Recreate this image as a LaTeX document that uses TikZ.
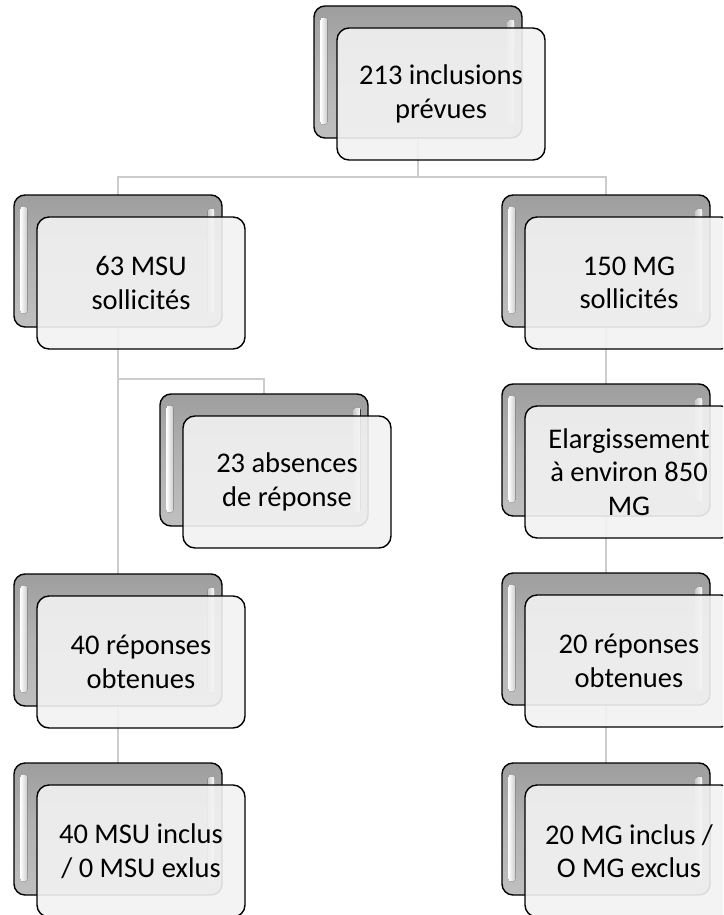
\documentclass[tikz,border=0pt]{standalone}
\usepackage{fontspec}
\newfontfamily\unitfont{Carlito}
\usetikzlibrary{calc}
\pgfdeclarelayer{background}
\pgfsetlayers{background,main}
\tikzset{
  backbox/.style={draw=black, line width=1.4pt, rounded corners=11pt,
    minimum width=208pt, minimum height=132pt, inner sep=0pt,
    top color=gray!76, bottom color=gray!50, middle color=gray!60},
  frontbox/.style={draw=black, line width=1.4pt, rounded corners=12pt,
    minimum width=208pt, minimum height=132pt, inner sep=0pt,
    fill=gray!10, fill opacity=0.9, draw opacity=1, text opacity=1,
    align=center, font={\unitfont\fontsize{28.5}{33.5}\selectfont}},
  glossL/.style={left color=white, right color=gray!40, rounded corners=3pt},
  glossR/.style={left color=gray!40, right color=white, rounded corners=3pt},
  conn/.style={draw=gray!40, line width=2.5pt}
}
\newcommand\unitbox[4]{%
  \node[backbox] (#1b) at (#2,#3) {};
  \fill[glossL] ($(#1b.north west)+(7,12)$) rectangle ($(#1b.south west)+(14,-14)$);
  \fill[glossR] ($(#1b.north east)+(-15,14)$) rectangle ($(#1b.south east)+(-8,-14)$);
  \node[frontbox] (#1f) at ($(#1b.center)+(23,22)$) {#4};
}
\begin{document}
\begin{tikzpicture}[x=1pt,y=-1pt]
\clip (0,0) rectangle (723,915);
\unitbox{top}{418}{72}{213 inclusions\\prévues}
\unitbox{msu}{118}{261}{63 MSU\\sollicités}
\unitbox{abs}{264}{460}{23 absences\\de réponse}
\unitbox{repa}{118}{640}{40 réponses\\obtenues}
\unitbox{inca}{118}{829}{40 MSU inclus\\/ 0 MSU exlus}
\unitbox{mg}{606}{261}{150 MG\\sollicités}
\unitbox{elarg}{606}{450}{Elargissement\\à environ 850\\MG}
\unitbox{repb}{606}{639}{20 réponses\\obtenues}
\unitbox{incb}{606}{829}{20 MG inclus /\\O MG exclus}
\begin{pgfonlayer}{background}
  \fill[white] (0,0) rectangle (723,915);
  \coordinate (j0) at (418,177);
  \coordinate (j1) at (118,379);
  \draw[conn] (topb.center) -- (j0);
  \draw[conn] (j0) -| (msub.center);
  \draw[conn] (j0) -| (mgb.center);
  \draw[conn] (msub.center) -- (repab.center);
  \draw[conn] (j1) -| (absb.center);
  \draw[conn] (repab.center) -- (incab.center);
  \draw[conn] (mgb.center) -- (elargb.center);
  \draw[conn] (elargb.center) -- (repbb.center);
  \draw[conn] (repbb.center) -- (incbb.center);
\end{pgfonlayer}
\end{tikzpicture}
\end{document}
